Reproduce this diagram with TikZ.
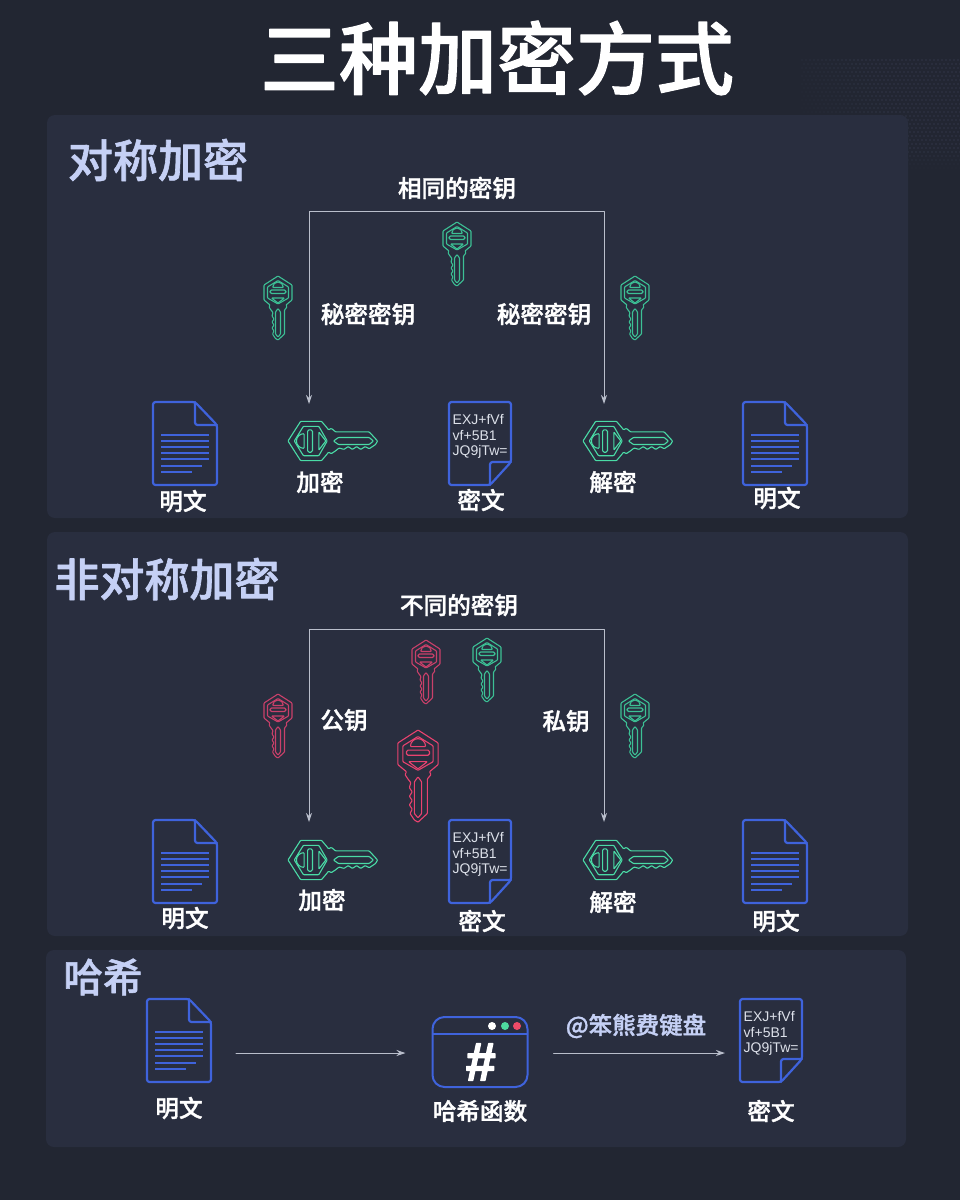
\documentclass[tikz,border=0pt]{standalone}
\usepackage{fontspec}
\usetikzlibrary{arrows.meta}
\setmainfont{Noto Sans CJK SC}[BoldFont={Noto Sans CJK SC Medium},BoldFeatures={FakeBold=1.4}]
\newfontfamily\latinfont{Liberation Sans}[BoldItalicFeatures={FakeBold=2.5}]
\definecolor{bgdark}{HTML}{222632}
\definecolor{panelbg}{HTML}{292E3F}
\definecolor{dotgrey}{HTML}{3C4358}
\definecolor{docblue}{HTML}{3F63DC}
\definecolor{keygreen}{HTML}{4ADBA6}
\definecolor{keygreendim}{HTML}{3CC095}
\definecolor{keyred}{HTML}{E8426F}
\definecolor{keyreddim}{HTML}{C9406A}
\definecolor{headblue}{HTML}{C5D0F5}
\definecolor{linegrey}{HTML}{B9BECB}
\definecolor{codegrey}{HTML}{DDE1EA}
\definecolor{lampred}{HTML}{EE4A68}
\definecolor{lampgreen}{HTML}{4ED9A0}
\tikzset{
	panel/.style={fill=panelbg,rounded corners=8pt},
	heading/.style={font=\fontsize{45}{46}\selectfont\bfseries,text=headblue,inner sep=0pt},
	lbl/.style={font=\fontsize{23.6}{24}\selectfont\bfseries,text=white,inner sep=0pt},
	flow/.style={draw=linegrey,line width=1pt,-{Stealth[length=9pt,width=6pt]}},
	flowboth/.style={draw=linegrey,line width=1pt,{Stealth[length=9pt,width=6pt]}-{Stealth[length=9pt,width=6pt]}},
	docline/.style={draw=docblue,line width=2.2pt,rounded corners=2.5pt},
	code/.style={font=\latinfont\fontsize{14}{15.5}\selectfont,text=codegrey,anchor=north west,inner sep=0pt,align=left},
	keypic/.pic={
		\begin{scope}[draw=#1,line width=1.1pt,rounded corners=0.7pt]
		\draw (0,0)--(14,9)--(14,24)--(8,29)--(9,31)--(6.5,34)--(6.5,58)--(0,64)--(-2.5,62.5)--(-5.5,58)--(-4,55)--(-6,52)--(-4,49)--(-6,46)--(-4,43)--(-6,40)--(-5,36.5)--(-7,34)--(-9,31)--(-8,29)--(-14,24)--(-14,9)--cycle;
		\draw (0,4.5)--(10.5,11)--(10.5,22)--(0,28)--(-10.5,22)--(-10.5,11)--cycle;
		\draw (-5.2,11.5) arc (180:360:5.2 and 5.5)--cycle;
		\draw[rounded corners=1.5pt] (-8,14) rectangle (8,17.5);
		\draw (-6.5,22)--(6.5,22)--(0,27)--cycle;
		\draw (-2.5,36)--(0,32.5)--(2.5,36)--(2.5,58)--(0,61)--(-2.5,58)--cycle;
		\end{scope}
	},
	plaindoc/.pic={
		\draw[docline] (0,0)--(42,0)--(64,23)--(64,83)--(0,83)--cycle;
		\draw[docline] (42,0)--(42,23)--(64,23);
		\foreach \y/\e in {33/56,39/56,45/56,51/56,57/56,64/49,70/39}
		\draw[docblue,line width=1.6pt,line cap=butt] (8,\y)--(\e,\y);
		\coordinate (-e) at (64,54);
	},
	codedoc/.pic={
		\draw[docline] (0,0)--(62,0)--(62,60)--(41,83)--(0,83)--cycle;
		\draw[docline] (62,60)--(41,60)--(41,83);
		\node[code] (-txt) at (3.5,12.5) {EXJ+fVf\\vf+5B1\\JQ9jTw=};
		\coordinate (-w) at (0,54);
	}
}
\begin{document}
\begin{tikzpicture}[x=1pt,y=-1pt,line join=round,line cap=round,>=stealth]
	\useasboundingbox (0,0) rectangle (960,1200);
	\fill[bgdark] (0,0) rectangle (960,1200);
	% halftone patch behind the first panel
	\foreach \i in {0,...,39}
	\foreach \j in {0,...,28}{
		\pgfmathsetmacro{\op}{max(0,min(min(0.55,(\i*4+(29-\j)*2-20)/170),(28-\j)/10))}
		\pgfmathsetmacro{\dx}{802+\i*4+2*mod(\j,2)}
		\fill[dotgrey,opacity=\op] (\dx,60+\j*4) circle (0.9pt);
	}
	% panels
	\fill[panel] (47,115) rectangle (908,518);
	\fill[panel] (47,532) rectangle (908,936);
	\fill[panel] (46,950) rectangle (906,1147);
	\node[inner sep=0pt,text=white,font=\fontsize{79}{80}\selectfont\bfseries] (title) at (497,58) {三种加密方式};
	% symmetric
	\node[heading] (symhead) at (158,160) {对称加密};
	\node[lbl] (symkey) at (457,188) {相同的密钥};
	\coordinate (A) at (309,404);
	\coordinate (B) at (309,211);
	\coordinate (C) at (604,211);
	\coordinate (D) at (604,404);
	\draw[flowboth] (A)--(B)--(C)--(D);
	\pic at (278,276) {keypic=keygreendim};
	\pic at (457,222) {keypic=keygreendim};
	\pic at (635,276) {keypic=keygreendim};
	\node[lbl] (symsec1) at (368,314) {秘密密钥};
	\node[lbl] (symsec2) at (544,314) {秘密密钥};
	\pic at (153,402) {plaindoc};
	\pic[scale=1.4,rotate=90] at (288,441) {keypic=keygreen};
	\pic at (449,402) {codedoc};
	\pic[scale=1.4,rotate=90] at (583,441) {keypic=keygreen};
	\pic at (743,402) {plaindoc};
	\node[lbl] (symplain1) at (183,501) {明文};
	\node[lbl] (symenc) at (320,482) {加密};
	\node[lbl] (symcipher) at (481,500) {密文};
	\node[lbl] (symdec) at (613,482) {解密};
	\node[lbl] (symplain2) at (777,498) {明文};
	% asymmetric
	\node[heading] (asymhead) at (167,579) {非对称加密};
	\node[lbl] (asymkey) at (459,605) {不同的密钥};
	\coordinate (E) at (309,822);
	\coordinate (F) at (309,629);
	\coordinate (G) at (604,629);
	\coordinate (H) at (604,822);
	\draw[flowboth] (E)--(F)--(G)--(H);
	\pic at (278,694) {keypic=keyreddim};
	\pic at (426,640) {keypic=keyreddim};
	\pic at (487,638) {keypic=keygreendim};
	\pic at (635,694) {keypic=keygreendim};
	\pic[scale=1.44] at (418,730) {keypic=keyred};
	\node[lbl] (asympub) at (344,720) {公钥};
	\node[lbl] (asympriv) at (566,721) {私钥};
	\pic at (153,820) {plaindoc};
	\pic[scale=1.4,rotate=90] at (288,860) {keypic=keygreen};
	\pic at (449,820) {codedoc};
	\pic[scale=1.4,rotate=90] at (583,860) {keypic=keygreen};
	\pic at (743,820) {plaindoc};
	\node[lbl] (asymplain1) at (185,918) {明文};
	\node[lbl] (asymenc) at (322,900) {加密};
	\node[lbl] (asymcipher) at (482,921) {密文};
	\node[lbl] (asymdec) at (613,902) {解密};
	\node[lbl] (asymplain2) at (776,921) {明文};
	% hash
	\node[heading,font=\fontsize{39.5}{40}\selectfont\bfseries] (hashhead) at (103,977) {哈希};
	\pic (hashplain) at (147,999) {plaindoc};
	\node[draw=docblue,line width=2pt,rounded corners=12pt,minimum width=95pt,minimum height=70pt,inner sep=0pt,outer sep=0pt] (hash) at (480,1052) {};
	\draw[docblue,line width=1.5pt] (hash.west|-0,1034)--(hash.east|-0,1034);
	\fill[white] (492,1026) circle (4pt);
	\fill[lampgreen] (505,1026) circle (4pt);
	\fill[lampred] (517,1026) circle (4pt);
	\node[inner sep=0pt,text=white,font=\latinfont\fontsize{54}{54}\selectfont\bfseries\itshape] (hashmark) at (480,1062) {\#};
	\pic (hashcipher) at (740,999) {codedoc};
	\draw[flow,shorten <=25pt,shorten >=27pt] (hashplain-e)--(hash.west|-hashplain-e);
	\draw[flow,shorten <=26pt,shorten >=15pt] (hash.east|-hashplain-e)--(hashcipher-w);
	\node[lbl,text=headblue,font=\fontsize{23.5}{24}\selectfont\bfseries] (sign) at (636,1026) {@笨熊费键盘};
	\node[lbl] (hashlabel1) at (179,1108) {明文};
	\node[lbl] (hashlabel2) at (480,1111) {哈希函数};
	\node[lbl] (hashlabel3) at (771,1111) {密文};
\end{tikzpicture}
\end{document}
